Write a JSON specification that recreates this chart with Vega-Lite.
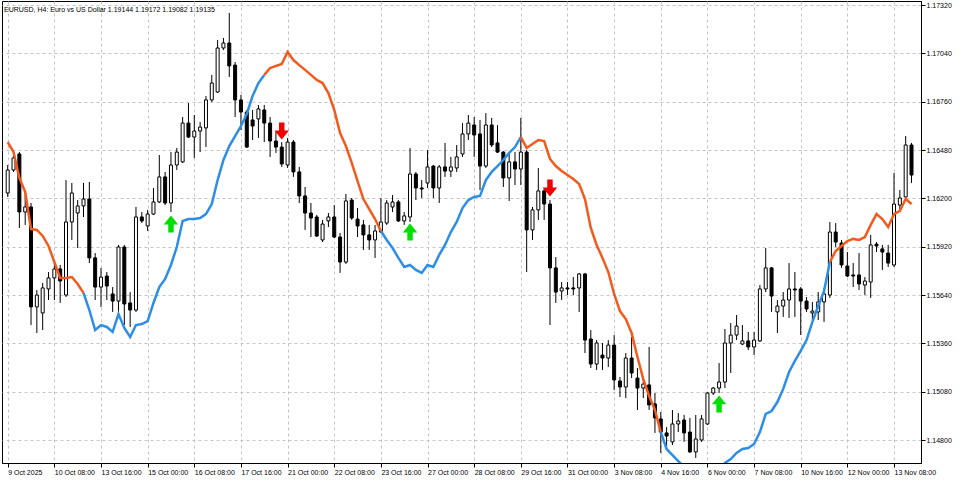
{
"$schema": "https://vega.github.io/schema/vega-lite/v6.json",
"width": 919, "height": 462,
"autosize": {"type": "none"},
"padding": {"left": 2, "top": 1, "right": 39, "bottom": 17},
"background": "#ffffff",
"config": {"view": {"stroke": "#000000", "strokeWidth": 1}},
"title": {"text": "EURUSD, H4:  Euro vs US Dollar  1.19144 1.19172 1.19082 1.19135", "anchor": "start", "frame": "group", "offset": -18, "dx": 2, "fontSize": 7, "font": "Liberation Sans, sans-serif", "fontWeight": "normal", "color": "#000000", "baseline": "alphabetic"},
"datasets": {
"candles": [
{"i":0,"o":1.16231,"h":1.16393,"l":1.16208,"c":1.16364},
{"i":1,"o":1.16364,"h":1.16480,"l":1.16353,"c":1.16434},
{"i":2,"o":1.16457,"h":1.16468,"l":1.16028,"c":1.16121},
{"i":3,"o":1.16121,"h":1.16248,"l":1.16046,"c":1.16150},
{"i":4,"o":1.16150,"h":1.16173,"l":1.15466,"c":1.15571},
{"i":5,"o":1.15571,"h":1.15669,"l":1.15420,"c":1.15640},
{"i":6,"o":1.15536,"h":1.15710,"l":1.15437,"c":1.15681},
{"i":7,"o":1.15675,"h":1.15773,"l":1.15611,"c":1.15739},
{"i":8,"o":1.15739,"h":1.15825,"l":1.15611,"c":1.15791},
{"i":9,"o":1.15791,"h":1.15814,"l":1.15594,"c":1.15721},
{"i":10,"o":1.15640,"h":1.16306,"l":1.15628,"c":1.16063},
{"i":11,"o":1.16063,"h":1.16289,"l":1.15959,"c":1.16231},
{"i":12,"o":1.16115,"h":1.16190,"l":1.15912,"c":1.16156},
{"i":13,"o":1.16156,"h":1.16289,"l":1.16092,"c":1.16196},
{"i":14,"o":1.16196,"h":1.16295,"l":1.15825,"c":1.15855},
{"i":15,"o":1.15855,"h":1.15883,"l":1.15611,"c":1.15686},
{"i":16,"o":1.15686,"h":1.15797,"l":1.15571,"c":1.15744},
{"i":17,"o":1.15750,"h":1.15773,"l":1.15611,"c":1.15692},
{"i":18,"o":1.15646,"h":1.15686,"l":1.15542,"c":1.15605},
{"i":19,"o":1.15605,"h":1.15930,"l":1.15524,"c":1.15918},
{"i":20,"o":1.15918,"h":1.15930,"l":1.15466,"c":1.15588},
{"i":21,"o":1.15594,"h":1.15657,"l":1.15455,"c":1.15553},
{"i":22,"o":1.15553,"h":1.16150,"l":1.15542,"c":1.16092},
{"i":23,"o":1.16092,"h":1.16121,"l":1.16057,"c":1.16069},
{"i":24,"o":1.16040,"h":1.16133,"l":1.16011,"c":1.16109},
{"i":25,"o":1.16109,"h":1.16260,"l":1.16104,"c":1.16179},
{"i":26,"o":1.16179,"h":1.16451,"l":1.16173,"c":1.16324},
{"i":27,"o":1.16324,"h":1.16353,"l":1.16161,"c":1.16173},
{"i":28,"o":1.16173,"h":1.16468,"l":1.16121,"c":1.16393},
{"i":29,"o":1.16393,"h":1.16492,"l":1.16364,"c":1.16468},
{"i":30,"o":1.16411,"h":1.16671,"l":1.16405,"c":1.16636},
{"i":31,"o":1.16636,"h":1.16752,"l":1.16550,"c":1.16555},
{"i":32,"o":1.16555,"h":1.16683,"l":1.16434,"c":1.16590},
{"i":33,"o":1.16590,"h":1.16642,"l":1.16468,"c":1.16613},
{"i":34,"o":1.16608,"h":1.16793,"l":1.16497,"c":1.16770},
{"i":35,"o":1.16770,"h":1.16915,"l":1.16758,"c":1.16868},
{"i":36,"o":1.16816,"h":1.17117,"l":1.16810,"c":1.17071},
{"i":37,"o":1.17071,"h":1.17129,"l":1.17059,"c":1.17100},
{"i":38,"o":1.17100,"h":1.17274,"l":1.16903,"c":1.16967},
{"i":39,"o":1.16972,"h":1.16990,"l":1.16671,"c":1.16770},
{"i":40,"o":1.16770,"h":1.16799,"l":1.16596,"c":1.16700},
{"i":41,"o":1.16700,"h":1.16712,"l":1.16492,"c":1.16497},
{"i":42,"o":1.16654,"h":1.16712,"l":1.16538,"c":1.16619},
{"i":43,"o":1.16660,"h":1.16741,"l":1.16550,"c":1.16718},
{"i":44,"o":1.16712,"h":1.16741,"l":1.16526,"c":1.16636},
{"i":45,"o":1.16636,"h":1.16671,"l":1.16440,"c":1.16532},
{"i":46,"o":1.16532,"h":1.16584,"l":1.16463,"c":1.16497},
{"i":47,"o":1.16497,"h":1.16526,"l":1.16382,"c":1.16399},
{"i":48,"o":1.16393,"h":1.16550,"l":1.16376,"c":1.16526},
{"i":49,"o":1.16526,"h":1.16538,"l":1.16324,"c":1.16353},
{"i":50,"o":1.16353,"h":1.16382,"l":1.16173,"c":1.16214},
{"i":51,"o":1.16214,"h":1.16266,"l":1.16017,"c":1.16115},
{"i":52,"o":1.16115,"h":1.16173,"l":1.15976,"c":1.16086},
{"i":53,"o":1.16092,"h":1.16104,"l":1.15976,"c":1.15982},
{"i":54,"o":1.15959,"h":1.16075,"l":1.15947,"c":1.16051},
{"i":55,"o":1.16069,"h":1.16115,"l":1.16034,"c":1.16092},
{"i":56,"o":1.16092,"h":1.16161,"l":1.15970,"c":1.15976},
{"i":57,"o":1.15976,"h":1.15999,"l":1.15768,"c":1.15831},
{"i":58,"o":1.15831,"h":1.16225,"l":1.15820,"c":1.16185},
{"i":59,"o":1.16190,"h":1.16202,"l":1.16075,"c":1.16086},
{"i":60,"o":1.16080,"h":1.16144,"l":1.15976,"c":1.16040},
{"i":61,"o":1.16046,"h":1.16075,"l":1.15901,"c":1.15988},
{"i":62,"o":1.15988,"h":1.16046,"l":1.15901,"c":1.15959},
{"i":63,"o":1.15959,"h":1.16046,"l":1.15855,"c":1.16011},
{"i":64,"o":1.16005,"h":1.16202,"l":1.15999,"c":1.16063},
{"i":65,"o":1.16057,"h":1.16190,"l":1.16046,"c":1.16173},
{"i":66,"o":1.16150,"h":1.16219,"l":1.16121,"c":1.16179},
{"i":67,"o":1.16179,"h":1.16190,"l":1.16063,"c":1.16069},
{"i":68,"o":1.16069,"h":1.16121,"l":1.16046,"c":1.16098},
{"i":69,"o":1.16092,"h":1.16492,"l":1.16063,"c":1.16341},
{"i":70,"o":1.16341,"h":1.16353,"l":1.16190,"c":1.16260},
{"i":71,"o":1.16260,"h":1.16306,"l":1.16202,"c":1.16254},
{"i":72,"o":1.16289,"h":1.16480,"l":1.16260,"c":1.16382},
{"i":73,"o":1.16387,"h":1.16393,"l":1.16202,"c":1.16260},
{"i":74,"o":1.16260,"h":1.16393,"l":1.16173,"c":1.16382},
{"i":75,"o":1.16382,"h":1.16521,"l":1.16324,"c":1.16358},
{"i":76,"o":1.16358,"h":1.16440,"l":1.16324,"c":1.16382},
{"i":77,"o":1.16376,"h":1.16509,"l":1.16353,"c":1.16440},
{"i":78,"o":1.16457,"h":1.16636,"l":1.16440,"c":1.16573},
{"i":79,"o":1.16573,"h":1.16683,"l":1.16538,"c":1.16636},
{"i":80,"o":1.16625,"h":1.16671,"l":1.16440,"c":1.16567},
{"i":81,"o":1.16573,"h":1.16654,"l":1.16248,"c":1.16387},
{"i":82,"o":1.16387,"h":1.16694,"l":1.16376,"c":1.16625},
{"i":83,"o":1.16625,"h":1.16666,"l":1.16497,"c":1.16509},
{"i":84,"o":1.16521,"h":1.16625,"l":1.16463,"c":1.16468},
{"i":85,"o":1.16468,"h":1.16474,"l":1.16266,"c":1.16318},
{"i":86,"o":1.16318,"h":1.16468,"l":1.16185,"c":1.16411},
{"i":87,"o":1.16411,"h":1.16468,"l":1.16277,"c":1.16370},
{"i":88,"o":1.16370,"h":1.16666,"l":1.16277,"c":1.16468},
{"i":89,"o":1.16468,"h":1.16480,"l":1.15773,"c":1.16017},
{"i":90,"o":1.16017,"h":1.16150,"l":1.15959,"c":1.16133},
{"i":91,"o":1.16133,"h":1.16376,"l":1.16075,"c":1.16243},
{"i":92,"o":1.16243,"h":1.16260,"l":1.16075,"c":1.16167},
{"i":93,"o":1.16167,"h":1.16190,"l":1.15466,"c":1.15797},
{"i":94,"o":1.15797,"h":1.15860,"l":1.15594,"c":1.15657},
{"i":95,"o":1.15663,"h":1.15715,"l":1.15611,"c":1.15681},
{"i":96,"o":1.15681,"h":1.15715,"l":1.15640,"c":1.15675},
{"i":97,"o":1.15681,"h":1.15744,"l":1.15640,"c":1.15675},
{"i":98,"o":1.15681,"h":1.15768,"l":1.15542,"c":1.15762},
{"i":99,"o":1.15762,"h":1.15768,"l":1.15304,"c":1.15379},
{"i":100,"o":1.15385,"h":1.15437,"l":1.15217,"c":1.15240},
{"i":101,"o":1.15240,"h":1.15379,"l":1.15206,"c":1.15362},
{"i":102,"o":1.15292,"h":1.15362,"l":1.15206,"c":1.15275},
{"i":103,"o":1.15275,"h":1.15379,"l":1.15223,"c":1.15350},
{"i":104,"o":1.15350,"h":1.15408,"l":1.15090,"c":1.15148},
{"i":105,"o":1.15142,"h":1.15165,"l":1.15049,"c":1.15107},
{"i":106,"o":1.15107,"h":1.15304,"l":1.15043,"c":1.15275},
{"i":107,"o":1.15275,"h":1.15397,"l":1.15159,"c":1.15188},
{"i":108,"o":1.15159,"h":1.15217,"l":1.14974,"c":1.15101},
{"i":109,"o":1.15101,"h":1.15159,"l":1.15043,"c":1.15124},
{"i":110,"o":1.15119,"h":1.15339,"l":1.14974,"c":1.15003},
{"i":111,"o":1.15009,"h":1.15072,"l":1.14841,"c":1.14928},
{"i":112,"o":1.14922,"h":1.14962,"l":1.14725,"c":1.14846},
{"i":113,"o":1.14841,"h":1.14875,"l":1.14760,"c":1.14823},
{"i":114,"o":1.14789,"h":1.14974,"l":1.14771,"c":1.14893},
{"i":115,"o":1.14893,"h":1.14956,"l":1.14846,"c":1.14910},
{"i":116,"o":1.14916,"h":1.14945,"l":1.14789,"c":1.14841},
{"i":117,"o":1.14846,"h":1.14928,"l":1.14725,"c":1.14731},
{"i":118,"o":1.14731,"h":1.14945,"l":1.14696,"c":1.14806},
{"i":119,"o":1.14800,"h":1.14945,"l":1.14789,"c":1.14922},
{"i":120,"o":1.14893,"h":1.15078,"l":1.14887,"c":1.15072},
{"i":121,"o":1.15072,"h":1.15107,"l":1.15061,"c":1.15101},
{"i":122,"o":1.15101,"h":1.15246,"l":1.15072,"c":1.15136},
{"i":123,"o":1.15136,"h":1.15443,"l":1.15101,"c":1.15362},
{"i":124,"o":1.15362,"h":1.15478,"l":1.15188,"c":1.15408},
{"i":125,"o":1.15408,"h":1.15524,"l":1.15379,"c":1.15460},
{"i":126,"o":1.15356,"h":1.15466,"l":1.15350,"c":1.15374},
{"i":127,"o":1.15374,"h":1.15426,"l":1.15321,"c":1.15339},
{"i":128,"o":1.15339,"h":1.15426,"l":1.15292,"c":1.15379},
{"i":129,"o":1.15374,"h":1.15698,"l":1.15368,"c":1.15675},
{"i":130,"o":1.15675,"h":1.15912,"l":1.15657,"c":1.15797},
{"i":131,"o":1.15797,"h":1.15802,"l":1.15542,"c":1.15634},
{"i":132,"o":1.15542,"h":1.15611,"l":1.15420,"c":1.15576},
{"i":133,"o":1.15576,"h":1.15657,"l":1.15513,"c":1.15611},
{"i":134,"o":1.15611,"h":1.15825,"l":1.15507,"c":1.15675},
{"i":135,"o":1.15675,"h":1.15773,"l":1.15513,"c":1.15669},
{"i":136,"o":1.15675,"h":1.15686,"l":1.15408,"c":1.15605},
{"i":137,"o":1.15605,"h":1.15628,"l":1.15542,"c":1.15559},
{"i":138,"o":1.15536,"h":1.15600,"l":1.15495,"c":1.15547},
{"i":139,"o":1.15542,"h":1.15657,"l":1.15495,"c":1.15600},
{"i":140,"o":1.15600,"h":1.15681,"l":1.15484,"c":1.15646},
{"i":141,"o":1.15640,"h":1.16063,"l":1.15623,"c":1.16005},
{"i":142,"o":1.16005,"h":1.16057,"l":1.15918,"c":1.15947},
{"i":143,"o":1.15941,"h":1.15959,"l":1.15797,"c":1.15814},
{"i":144,"o":1.15808,"h":1.15889,"l":1.15744,"c":1.15750},
{"i":145,"o":1.15756,"h":1.15825,"l":1.15686,"c":1.15750},
{"i":146,"o":1.15756,"h":1.15883,"l":1.15669,"c":1.15704},
{"i":147,"o":1.15698,"h":1.15744,"l":1.15640,"c":1.15721},
{"i":148,"o":1.15715,"h":1.15988,"l":1.15623,"c":1.15930},
{"i":149,"o":1.15935,"h":1.15947,"l":1.15889,"c":1.15924},
{"i":150,"o":1.15907,"h":1.15930,"l":1.15785,"c":1.15889},
{"i":151,"o":1.15883,"h":1.15930,"l":1.15802,"c":1.15825},
{"i":152,"o":1.15814,"h":1.16347,"l":1.15802,"c":1.16167},
{"i":153,"o":1.16161,"h":1.16248,"l":1.16121,"c":1.16202},
{"i":154,"o":1.16208,"h":1.16561,"l":1.16202,"c":1.16509},
{"i":155,"o":1.16509,"h":1.16521,"l":1.16289,"c":1.16335}
],
"lines": [
{"i":0,"v":1.16526,"s":"o1"},{"i":1,"v":1.16468,"s":"o1"},{"i":2,"v":1.16318,"s":"o1"},{"i":3,"v":1.16237,"s":"o1"},{"i":4,"v":1.16022,"s":"o1"},{"i":5,"v":1.16017,"s":"o1"},{"i":6,"v":1.15982,"s":"o1"},{"i":7,"v":1.15924,"s":"o1"},{"i":8,"v":1.15831,"s":"o1"},{"i":9,"v":1.15739,"s":"o1"},{"i":10,"v":1.15739,"s":"o1"},{"i":11,"v":1.15744,"s":"o1"},{"i":12,"v":1.15704,"s":"o1"},{"i":13,"v":1.15652,"s":"o1"},
{"i":13,"v":1.15652,"s":"b1"},{"i":14,"v":1.15553,"s":"b1"},{"i":15,"v":1.15437,"s":"b1"},{"i":16,"v":1.15466,"s":"b1"},{"i":17,"v":1.15455,"s":"b1"},{"i":18,"v":1.15426,"s":"b1"},{"i":19,"v":1.15530,"s":"b1"},{"i":20,"v":1.15449,"s":"b1"},{"i":21,"v":1.15397,"s":"b1"},{"i":22,"v":1.15466,"s":"b1"},{"i":23,"v":1.15472,"s":"b1"},{"i":24,"v":1.15489,"s":"b1"},{"i":25,"v":1.15594,"s":"b1"},{"i":26,"v":1.15686,"s":"b1"},{"i":27,"v":1.15733,"s":"b1"},{"i":28,"v":1.15814,"s":"b1"},{"i":29,"v":1.15918,"s":"b1"},{"i":30,"v":1.16069,"s":"b1"},{"i":31,"v":1.16080,"s":"b1"},{"i":32,"v":1.16080,"s":"b1"},{"i":33,"v":1.16086,"s":"b1"},{"i":34,"v":1.16109,"s":"b1"},{"i":35,"v":1.16167,"s":"b1"},{"i":36,"v":1.16306,"s":"b1"},{"i":37,"v":1.16422,"s":"b1"},{"i":38,"v":1.16503,"s":"b1"},{"i":39,"v":1.16561,"s":"b1"},{"i":40,"v":1.16619,"s":"b1"},{"i":41,"v":1.16689,"s":"b1"},{"i":42,"v":1.16793,"s":"b1"},{"i":43,"v":1.16868,"s":"b1"},{"i":44,"v":1.16915,"s":"b1"},
{"i":44,"v":1.16915,"s":"o2"},{"i":45,"v":1.16955,"s":"o2"},{"i":46,"v":1.16967,"s":"o2"},{"i":47,"v":1.16978,"s":"o2"},{"i":48,"v":1.17048,"s":"o2"},{"i":49,"v":1.17001,"s":"o2"},{"i":50,"v":1.16972,"s":"o2"},{"i":51,"v":1.16944,"s":"o2"},{"i":52,"v":1.16915,"s":"o2"},{"i":53,"v":1.16886,"s":"o2"},{"i":54,"v":1.16868,"s":"o2"},{"i":55,"v":1.16810,"s":"o2"},{"i":56,"v":1.16712,"s":"o2"},{"i":57,"v":1.16578,"s":"o2"},{"i":58,"v":1.16503,"s":"o2"},{"i":59,"v":1.16405,"s":"o2"},{"i":60,"v":1.16300,"s":"o2"},{"i":61,"v":1.16196,"s":"o2"},{"i":62,"v":1.16138,"s":"o2"},{"i":63,"v":1.16080,"s":"o2"},{"i":64,"v":1.16011,"s":"o2"},
{"i":64,"v":1.16011,"s":"b2"},{"i":65,"v":1.15959,"s":"b2"},{"i":66,"v":1.15912,"s":"b2"},{"i":67,"v":1.15855,"s":"b2"},{"i":68,"v":1.15802,"s":"b2"},{"i":69,"v":1.15814,"s":"b2"},{"i":70,"v":1.15785,"s":"b2"},{"i":71,"v":1.15768,"s":"b2"},{"i":72,"v":1.15814,"s":"b2"},{"i":73,"v":1.15802,"s":"b2"},{"i":74,"v":1.15872,"s":"b2"},{"i":75,"v":1.15930,"s":"b2"},{"i":76,"v":1.16005,"s":"b2"},{"i":77,"v":1.16063,"s":"b2"},{"i":78,"v":1.16144,"s":"b2"},{"i":79,"v":1.16190,"s":"b2"},{"i":80,"v":1.16208,"s":"b2"},{"i":81,"v":1.16214,"s":"b2"},{"i":82,"v":1.16306,"s":"b2"},{"i":83,"v":1.16353,"s":"b2"},{"i":84,"v":1.16387,"s":"b2"},{"i":85,"v":1.16422,"s":"b2"},{"i":86,"v":1.16463,"s":"b2"},{"i":87,"v":1.16497,"s":"b2"},{"i":88,"v":1.16555,"s":"b2"},
{"i":88,"v":1.16555,"s":"o3"},{"i":89,"v":1.16492,"s":"o3"},{"i":90,"v":1.16515,"s":"o3"},{"i":91,"v":1.16538,"s":"o3"},{"i":92,"v":1.16532,"s":"o3"},{"i":93,"v":1.16428,"s":"o3"},{"i":94,"v":1.16387,"s":"o3"},{"i":95,"v":1.16358,"s":"o3"},{"i":96,"v":1.16335,"s":"o3"},{"i":97,"v":1.16312,"s":"o3"},{"i":98,"v":1.16283,"s":"o3"},{"i":99,"v":1.16196,"s":"o3"},{"i":100,"v":1.16028,"s":"o3"},{"i":101,"v":1.15930,"s":"o3"},{"i":102,"v":1.15855,"s":"o3"},{"i":103,"v":1.15773,"s":"o3"},{"i":104,"v":1.15646,"s":"o3"},{"i":105,"v":1.15547,"s":"o3"},{"i":106,"v":1.15501,"s":"o3"},{"i":107,"v":1.15420,"s":"o3"},{"i":108,"v":1.15281,"s":"o3"},{"i":109,"v":1.15153,"s":"o3"},{"i":110,"v":1.15055,"s":"o3"},{"i":111,"v":1.14974,"s":"o3"},{"i":112,"v":1.14846,"s":"o3"},
{"i":112,"v":1.14846,"s":"b3"},{"i":113,"v":1.14748,"s":"b3"},{"i":114,"v":1.14713,"s":"b3"},{"i":115,"v":1.14678,"s":"b3"},{"i":116,"v":1.14644,"s":"b3"},{"i":117,"v":1.14615,"s":"b3"},{"i":118,"v":1.14591,"s":"b3"},{"i":119,"v":1.14580,"s":"b3"},{"i":120,"v":1.14586,"s":"b3"},{"i":121,"v":1.14603,"s":"b3"},{"i":122,"v":1.14632,"s":"b3"},{"i":123,"v":1.14667,"s":"b3"},{"i":124,"v":1.14690,"s":"b3"},{"i":125,"v":1.14725,"s":"b3"},{"i":126,"v":1.14748,"s":"b3"},{"i":127,"v":1.14754,"s":"b3"},{"i":128,"v":1.14777,"s":"b3"},{"i":129,"v":1.14846,"s":"b3"},{"i":130,"v":1.14951,"s":"b3"},{"i":131,"v":1.14968,"s":"b3"},{"i":132,"v":1.15020,"s":"b3"},{"i":133,"v":1.15096,"s":"b3"},{"i":134,"v":1.15194,"s":"b3"},{"i":135,"v":1.15258,"s":"b3"},{"i":136,"v":1.15316,"s":"b3"},{"i":137,"v":1.15379,"s":"b3"},{"i":138,"v":1.15484,"s":"b3"},{"i":139,"v":1.15576,"s":"b3"},{"i":140,"v":1.15663,"s":"b3"},{"i":141,"v":1.15831,"s":"b3"},
{"i":141,"v":1.15831,"s":"o4"},{"i":142,"v":1.15895,"s":"o4"},{"i":143,"v":1.15924,"s":"o4"},{"i":144,"v":1.15953,"s":"o4"},{"i":145,"v":1.15965,"s":"o4"},{"i":146,"v":1.15959,"s":"o4"},{"i":147,"v":1.15976,"s":"o4"},{"i":148,"v":1.16046,"s":"o4"},{"i":149,"v":1.16109,"s":"o4"},{"i":150,"v":1.16080,"s":"o4"},{"i":151,"v":1.16034,"s":"o4"},{"i":152,"v":1.16109,"s":"o4"},{"i":153,"v":1.16127,"s":"o4"},{"i":154,"v":1.16196,"s":"o4"},{"i":155,"v":1.16167,"s":"o4"}
],
"arrows": [
{"i":28,"v":1.16051,"d":"up"},{"i":69,"v":1.16005,"d":"up"},{"i":122,"v":1.15009,"d":"up"},
{"i":47,"v":1.16590,"d":"dn"},{"i":93,"v":1.16260,"d":"dn"}
]
},
"layer": [
{"data": {"name": "candles"},
 "mark": {"type": "rule", "color": "#000000", "strokeWidth": 1, "clip": true},
 "encoding": {
  "x": {"field": "i", "type": "quantitative", "scale": {"domain": [-0.12, 155.77], "nice": false, "zero": false},
   "axis": {"values": [0,8,16,24,32,40,48,56,64,72,80,88,96,104,112,120,128,136,144,152],
    "labelExpr": "['9 Oct 2025','10 Oct 08:00','13 Oct 16:00','15 Oct 00:00','16 Oct 08:00','17 Oct 16:00','21 Oct 00:00','22 Oct 08:00','23 Oct 16:00','27 Oct 00:00','28 Oct 08:00','29 Oct 16:00','31 Oct 00:00','3 Nov 08:00','4 Nov 16:00','6 Nov 00:00','7 Nov 08:00','10 Nov 16:00','12 Nov 00:00','13 Nov 08:00'][round(datum.value/8)]",
    "title": null, "grid": true, "gridColor": "#c4c4c4", "gridDash": [3,3], "gridWidth": 1,
    "domain": true, "domainColor": "#000000", "ticks": true, "tickSize": 4, "tickColor": "#000000",
    "labelAlign": "left", "labelPadding": 1, "labelFontSize": 7, "labelFont": "Liberation Sans, sans-serif",
    "labelColor": "#000000", "labelOverlap": false, "labelFlush": false, "labelBound": false}},
  "y": {"field": "l", "type": "quantitative", "scale": {"domain": [1.146668, 1.173432], "nice": false, "zero": false},
   "axis": {"orient": "right", "values": [1.148,1.1494,1.1508,1.1522,1.1536,1.155,1.1564,1.1578,1.1592,1.1606,1.162,1.1634,1.1648,1.1662,1.1676,1.169,1.1704,1.1718,1.1732],
    "format": ".5f", "title": null, "grid": true, "gridColor": "#c4c4c4", "gridDash": [3,3], "gridWidth": 1,
    "domain": true, "domainColor": "#000000", "ticks": true, "tickSize": 4, "tickColor": "#000000",
    "labelAlign": "left", "labelBaseline": "middle", "labelPadding": 1, "labelFontSize": 7, "labelFont": "Liberation Sans, sans-serif",
    "labelColor": "#000000", "labelOverlap": false, "labelFlush": false, "labelBound": false}},
  "y2": {"field": "h"}
 }},
{"data": {"name": "candles"},
 "mark": {"type": "bar", "size": 3, "stroke": "#000000", "strokeWidth": 1, "clip": true},
 "encoding": {
  "x": {"field": "i", "type": "quantitative"},
  "y": {"field": "o", "type": "quantitative"},
  "y2": {"field": "c"},
  "fill": {"condition": {"test": "datum.c >= datum.o", "value": "#ffffff"}, "value": "#000000"}
 }},
{"data": {"name": "lines"},
 "mark": {"type": "line", "strokeWidth": 2.5, "clip": true},
 "encoding": {
  "x": {"field": "i", "type": "quantitative"},
  "y": {"field": "v", "type": "quantitative"},
  "color": {"field": "s", "type": "nominal", "scale": {"domain": ["o1","b1","o2","b2","o3","b3","o4"], "range": ["#F25A1E","#2C8EE6","#F25A1E","#2C8EE6","#F25A1E","#2C8EE6","#F25A1E"]}, "legend": null}
 }},
{"data": {"name": "arrows"},
 "transform": [{"filter": "datum.d == 'up'"}],
 "mark": {"type": "point", "filled": true, "opacity": 1, "color": "#00E000", "strokeWidth": 0, "size": 289, "shape": "M0,-1L0.85,0.05L0.32,0.05L0.32,1L-0.32,1L-0.32,0.05L-0.85,0.05Z"},
 "encoding": {"x": {"field": "i", "type": "quantitative"}, "y": {"field": "v", "type": "quantitative"}}},
{"data": {"name": "arrows"},
 "transform": [{"filter": "datum.d == 'dn'"}],
 "mark": {"type": "point", "filled": true, "opacity": 1, "color": "#F00000", "strokeWidth": 0, "size": 289, "shape": "M0,1L0.85,-0.05L0.32,-0.05L0.32,-1L-0.32,-1L-0.32,-0.05L-0.85,-0.05Z"},
 "encoding": {"x": {"field": "i", "type": "quantitative"}, "y": {"field": "v", "type": "quantitative"}}}
]
}
